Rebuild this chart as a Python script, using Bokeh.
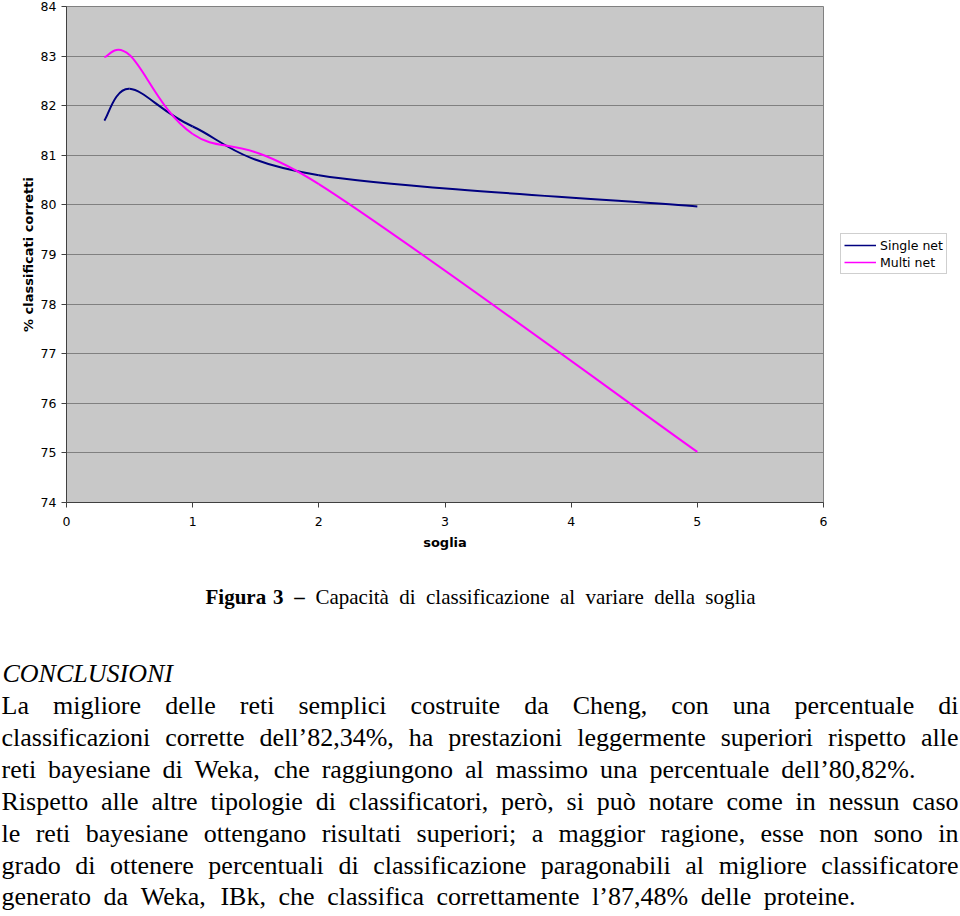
from bokeh.plotting import figure
from bokeh.models import Range1d, FixedTicker, ColumnDataSource
from bokeh.layouts import row
from bokeh.core.properties import value
from bokeh.embed import file_html
from bokeh.resources import INLINE

# ---------------- data ----------------
thresholds = [0.3, 0.5, 1.0, 2.0, 5.0]
single_net = [81.70, 82.34, 81.58, 80.60, 79.97]
multi_net = [82.98, 83.02, 81.43, 80.42, 75.02]
series_names = ["Single net", "Multi net"]
x_ticks = [0, 1, 2, 3, 4, 5, 6]
y_ticks = [74, 75, 76, 77, 78, 79, 80, 81, 82, 83, 84]

caption_bold = "Figura 3 –"
caption_text = "Capacità di classificazione al variare della soglia"
heading = "CONCLUSIONI"
body_lines = [
    "La migliore delle reti semplici costruite da Cheng, con una percentuale di",
    "classificazioni corrette dell’82,34%, ha prestazioni leggermente superiori rispetto alle",
    "reti bayesiane di Weka, che raggiungono al massimo una percentuale dell’80,82%.",
    "Rispetto alle altre tipologie di classificatori, però, si può notare come in nessun caso",
    "le reti bayesiane ottengano risultati superiori; a maggior ragione, esse non sono in",
    "grado di ottenere percentuali di classificazione paragonabili al migliore classificatore",
    "generato da Weka, IBk, che classifica correttamente l’87,48% delle proteine.",
]

SINGLE_COLOR = "#000080"
MULTI_COLOR = "#FF00FF"
TICK_FONT = "DejaVu Sans"


def smooth_segments(xs, ys):
    """Bezier control points of a smoothed line through the points."""
    n = len(xs)
    out = dict(x0=[], y0=[], x1=[], y1=[], cx0=[], cy0=[], cx1=[], cy1=[])
    for i in range(n - 1):
        ip = i - 1 if i > 0 else i
        inn = i + 2 if i + 2 < n else i + 1
        out["x0"].append(xs[i]); out["y0"].append(ys[i])
        out["x1"].append(xs[i + 1]); out["y1"].append(ys[i + 1])
        out["cx0"].append(xs[i] + (xs[i + 1] - xs[ip]) / 6.0)
        out["cy0"].append(ys[i] + (ys[i + 1] - ys[ip]) / 6.0)
        out["cx1"].append(xs[i + 1] - (xs[inn] - xs[i]) / 6.0)
        out["cy1"].append(ys[i + 1] - (ys[inn] - ys[i]) / 6.0)
    return out


# ---------------- chart ----------------
p = figure(width=833, height=560,
           x_range=Range1d(0, 6), y_range=Range1d(74, 84),
           output_backend="svg", toolbar_location=None,
           min_border_left=66, min_border_right=10, min_border_top=6, min_border_bottom=58,
           background_fill_color="#C8C8C8", border_fill_color="white",
           outline_line_color="#808080")

p.xgrid.grid_line_color = None
p.ygrid.grid_line_color = "#808080"
p.ygrid.grid_line_width = 1

p.xaxis.ticker = FixedTicker(ticks=x_ticks)
p.yaxis.ticker = FixedTicker(ticks=y_ticks)
for ax in (p.xaxis, p.yaxis):
    ax.major_label_text_font = TICK_FONT
    ax.major_label_text_font_size = "12.5px"
    ax.major_label_text_color = "black"
    ax.axis_line_color = "#404040"
    ax.major_tick_line_color = "#404040"
    ax.major_tick_in = 0
    ax.major_tick_out = 5
    ax.minor_tick_line_color = None
    ax.axis_label_text_font = TICK_FONT
    ax.axis_label_text_font_size = "13px"
    ax.axis_label_text_font_style = "bold"
    ax.axis_label_text_color = "black"
p.xaxis.axis_label = "soglia"
p.yaxis.axis_label = "% classificati corretti"
p.xaxis.major_label_standoff = 9
p.yaxis.major_label_standoff = 5
p.xaxis.axis_label_standoff = 6
p.yaxis.axis_label_standoff = 2

s1 = smooth_segments(thresholds, single_net)
s2 = smooth_segments(thresholds, multi_net)
p.bezier(source=ColumnDataSource(s1), x0="x0", y0="y0", x1="x1", y1="y1",
         cx0="cx0", cy0="cy0", cx1="cx1", cy1="cy1", line_color=SINGLE_COLOR, line_width=2)
p.bezier(source=ColumnDataSource(s2), x0="x0", y0="y0", x1="x1", y1="y1",
         cx0="cx0", cy0="cy0", cx1="cx1", cy1="cy1", line_color=MULTI_COLOR, line_width=2)

# ---------------- legend panel (right of the chart) ----------------
lf = figure(width=127, height=560, x_range=Range1d(0, 1), y_range=Range1d(0, 1),
            output_backend="svg", toolbar_location=None,
            min_border_left=0, min_border_right=0, min_border_top=6, min_border_bottom=58,
            x_axis_location=None, y_axis_location=None, outline_line_color=None,
            background_fill_color="white", border_fill_color="white")
lf.grid.visible = False
# single-point lines: they only provide the legend swatches
lf.line(x=[-1], y=[-1], line_color=SINGLE_COLOR, line_width=1.5, legend_label=series_names[0])
lf.line(x=[-1], y=[-1], line_color=MULTI_COLOR, line_width=1.5, legend_label=series_names[1])
leg = lf.legend[0]
leg.location = (7, 228)
leg.orientation = "vertical"
leg.padding = 3
leg.spacing = 1
leg.margin = 0
leg.glyph_width = 32
leg.glyph_height = 16
leg.label_height = 16
leg.label_standoff = 4
leg.label_text_font = TICK_FONT
leg.label_text_font_size = "12.5px"
leg.label_text_color = "black"
leg.border_line_color = "#A0A0A0"
leg.background_fill_color = "white"
leg.background_fill_alpha = 1.0

# ---------------- text block ----------------
TEXT_H = 356
TOP = 560
tp = figure(width=960, height=TEXT_H, x_range=Range1d(0, 960), y_range=Range1d(TEXT_H, 0),
            output_backend="svg", toolbar_location=None, min_border=0,
            x_axis_location=None, y_axis_location=None, outline_line_color=None,
            background_fill_color="white", border_fill_color="white")
tp.grid.visible = False

W = {' ': 250, 'a': 444, 'b': 500, 'c': 444, 'd': 500, 'e': 444, 'f': 333, 'g': 500, 'h': 500,
     'i': 278, 'j': 278, 'k': 500, 'l': 278, 'm': 778, 'n': 500, 'o': 500, 'p': 500, 'q': 500,
     'r': 333, 's': 389, 't': 278, 'u': 500, 'v': 500, 'w': 722, 'x': 500, 'y': 500, 'z': 444,
     'A': 722, 'B': 667, 'C': 667, 'D': 722, 'E': 611, 'F': 556, 'G': 722, 'H': 722, 'I': 333,
     'J': 389, 'K': 722, 'L': 611, 'M': 889, 'N': 722, 'O': 722, 'P': 556, 'Q': 722, 'R': 667,
     'S': 556, 'T': 611, 'U': 722, 'V': 722, 'W': 944, 'X': 722, 'Y': 722, 'Z': 611,
     ',': 250, '.': 250, ';': 278, ':': 278, '%': 833, '’': 333, 'à': 444, 'ò': 500, 'ù': 500,
     '–': 500, '-': 333}
for d in "0123456789":
    W[d] = 500


def word_width(w, size, bold=False):
    f = 1.04 if bold else 1.0
    return sum(W.get(c, 500) for c in w) / 1000.0 * size * f


def spread(words, left, right, size, bolds=None):
    bolds = bolds or [False] * len(words)
    widths = [word_width(w, size, b) for w, b in zip(words, bolds)]
    gap = (right - left - sum(widths)) / max(len(words) - 1, 1)
    xs, x = [], left
    for wd in widths:
        xs.append(x)
        x += wd + gap
    return xs


SERIF = value("Liberation Serif")

# caption
cb = caption_bold.split(" ")
ct = caption_text.split(" ")
cap_words = cb + ct
cap_x = spread(cap_words, 205, 755, 21, [True] * len(cb) + [False] * len(ct))
cap_y = 596 - TOP
nb = len(cb)
tp.text(x=cap_x[:nb], y=[cap_y] * nb, text=cb, text_font=SERIF,
        text_font_size="21px", text_font_style="bold", text_baseline="alphabetic",
        text_align="left", text_color="black")
tp.text(x=cap_x[nb:], y=[cap_y] * len(ct), text=ct, text_font=SERIF,
        text_font_size="21px", text_font_style="normal", text_baseline="alphabetic",
        text_align="left", text_color="black")

# heading
tp.text(x=[2], y=[673 - TOP], text=[heading], text_font=SERIF, text_font_size="26px",
        text_font_style="italic", text_baseline="alphabetic", text_align="left",
        text_color="black")

baselines = [705, 737, 769, 801, 833, 865, 896]
rights = [958, 958, 915, 958, 958, 958, 855]
bx, by, bt = [], [], []
for line, base, right in zip(body_lines, baselines, rights):
    words = line.split(" ")
    xs = spread(words, 1, right, 26)
    bx += xs
    by += [base - TOP] * len(words)
    bt += words
tp.text(x=bx, y=by, text=bt, text_font=SERIF, text_font_size="26px",
        text_baseline="alphabetic", text_align="left", text_color="black")

open("out.html", "w").write(file_html([row(p, lf, spacing=0), tp], INLINE))
